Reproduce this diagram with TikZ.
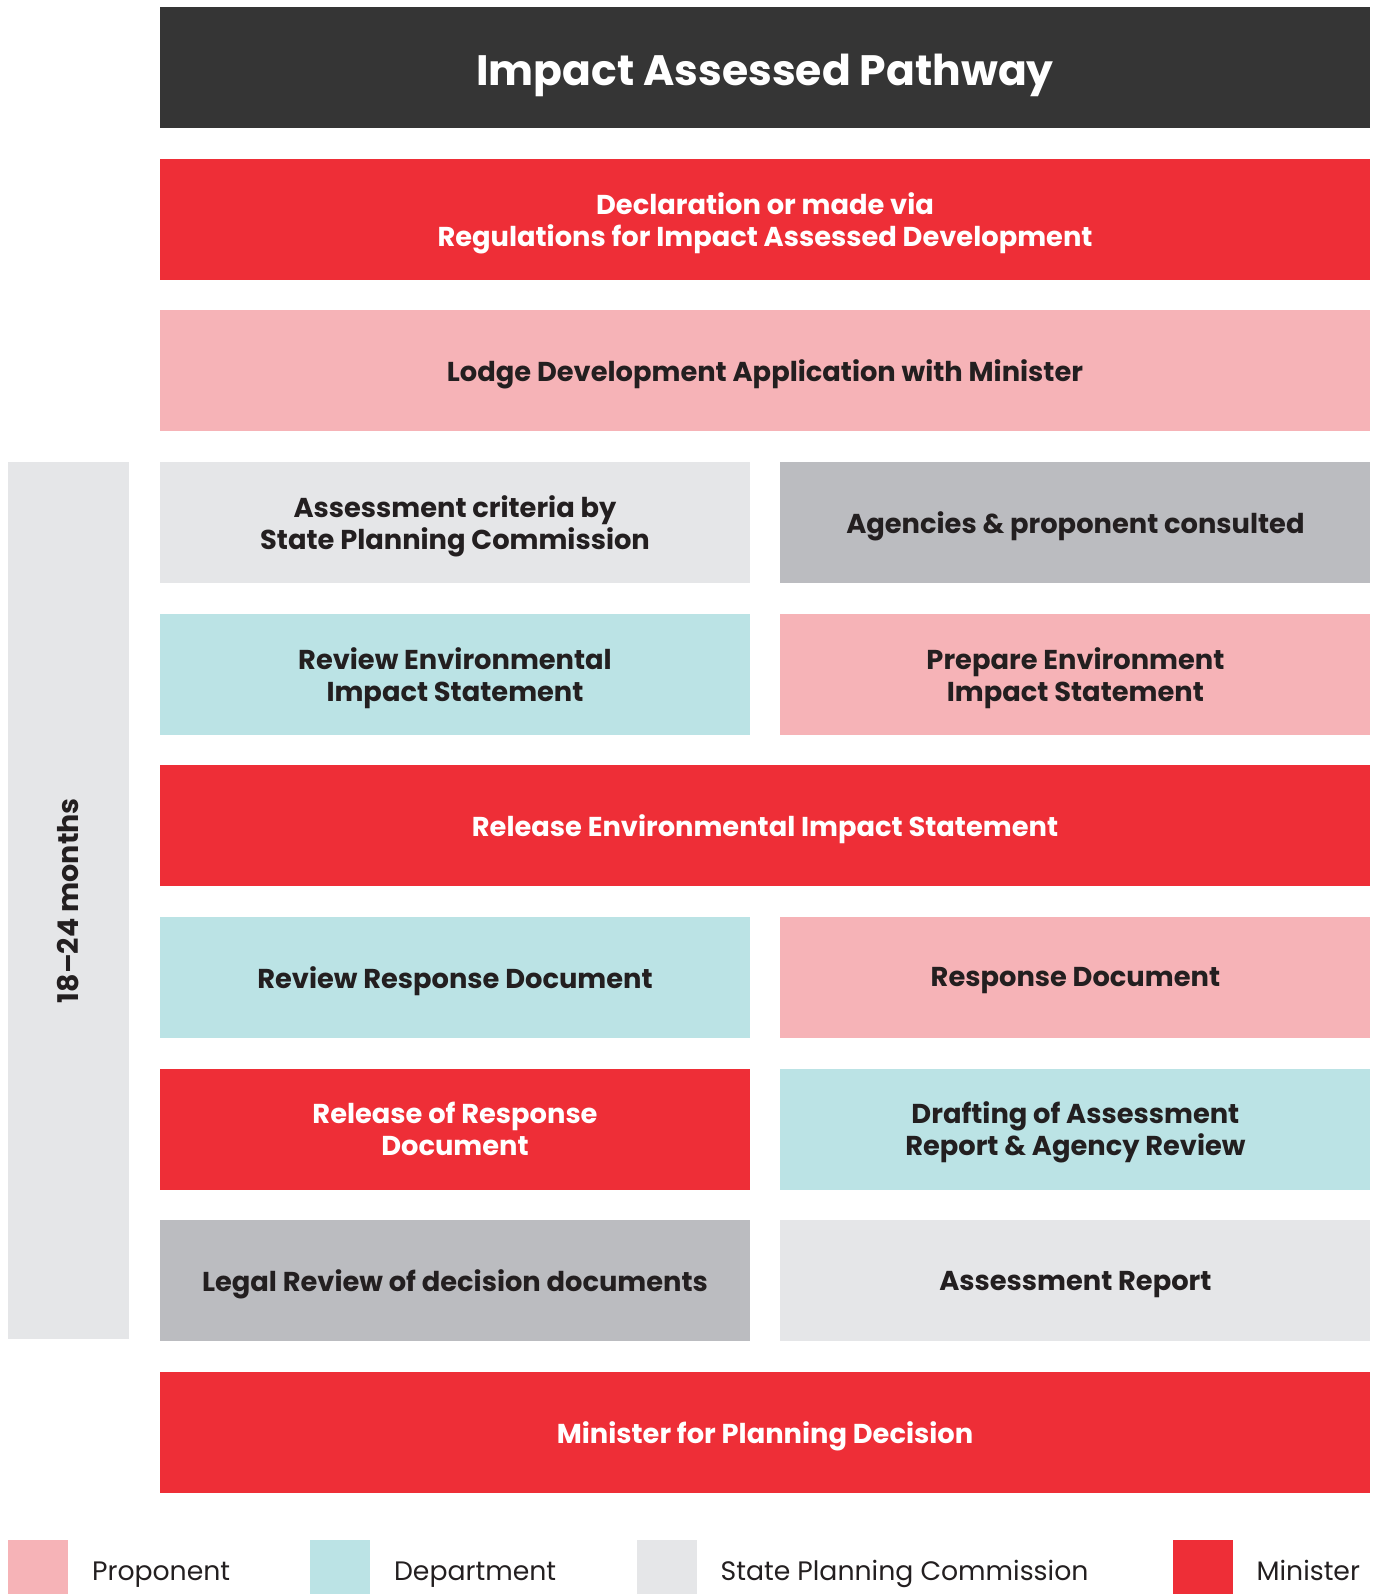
\documentclass[tikz,border=0pt]{standalone}
\usepackage{fontspec}
\setmainfont{Poppins}
\usetikzlibrary{positioning}
\definecolor{titlegrey}{HTML}{353535}
\definecolor{ministerred}{HTML}{EE2E37}
\definecolor{proponentpink}{HTML}{F6B3B7}
\definecolor{departmentblue}{HTML}{BBE3E5}
\definecolor{commissiongrey}{HTML}{E5E6E8}
\definecolor{othergrey}{HTML}{BBBCC0}
\definecolor{textdark}{HTML}{231F20}
\tikzset{
  box/.style={inner sep=0pt, minimum height=121pt, align=center, text=textdark, text depth=0pt,
    font=\fontsize{27.3}{32}\selectfont\bfseries},
  wide/.style={box, minimum width=1210pt},
  half/.style={box, minimum width=590pt},
  proponent/.style={fill=proponentpink},
  department/.style={fill=departmentblue},
  commission/.style={fill=commissiongrey},
  other/.style={fill=othergrey},
  minister/.style={fill=ministerred, text=white},
  key/.style={fill=#1, minimum width=60pt, minimum height=54pt, inner sep=0pt, anchor=north west},
  keytext/.style={anchor=base west, inner sep=0pt, text=textdark, font=\fontsize{26.7}{30}\selectfont}
}

\begin{document}
\begin{tikzpicture}[x=1pt,y=1pt,node distance=30.25pt and 30pt]
        \useasboundingbox (0,0) rectangle (1381,-1594);
        \node[wide, fill=titlegrey, text=white, text height=36pt, text depth=0pt,
              font=\fontsize{42.5}{50}\selectfont\bfseries] (title) at (765,-67.5) {Impact Assessed Pathway};
        \node[wide, minister] (declare) [below=of title] {Declaration or made via\\Regulations for Impact Assessed Development};
        \node[wide, proponent] (lodge) [below=of declare] {Lodge Development Application with Minister};
        \node[half, commission, anchor=north west] (criteria) at ([yshift=-30.25pt]lodge.south west) {Assessment criteria by\\State Planning Commission};
        \node[half, other] (agencies) [right=of criteria] {Agencies \& proponent consulted};
        \node[half, department] (reviewEIS) [below=of criteria] {Review Environmental\\Impact Statement};
        \node[half, proponent] (prepareEIS) [right=of reviewEIS] {Prepare Environment\\Impact Statement};
        \node[wide, minister, anchor=north west] (releaseEIS) at ([yshift=-30.25pt]reviewEIS.south west) {Release Environmental Impact Statement};
        \node[half, department, anchor=north west] (reviewRD) at ([yshift=-30.25pt]releaseEIS.south west) {Review Response Document};
        \node[half, proponent] (responseDoc) [right=of reviewRD] {Response Document};
        \node[half, minister] (releaseRD) [below=of reviewRD] {Release of Response\\Document};
        \node[half, department] (drafting) [right=of releaseRD] {Drafting of Assessment\\Report \& Agency Review};
        \node[half, other] (legal) [below=of releaseRD] {Legal Review of decision documents};
        \node[half, commission] (report) [right=of legal] {Assessment Report};
        \node[wide, minister, anchor=north west] (decision) at ([yshift=-30.25pt]legal.south west) {Minister for Planning Decision};
        % time span bar
        \node[commission, inner sep=0pt, minimum width=121pt, minimum height=877.25pt, anchor=north west] (duration) at ([xshift=-152pt]criteria.north west) {};
        \node[rotate=90, text=textdark, font=\fontsize{28.5}{32}\selectfont\bfseries] (durationtext) at (duration) {18--24 months};
        % legend
        \node[key=proponentpink] (keyprop) at (8,-1540) {};
        \node[keytext] (keyproptext) at ([xshift=23.5pt, yshift=-13pt]keyprop.east) {Proponent};
        \node[key=departmentblue] (keydept) at (310,-1540) {};
        \node[keytext] (keydepttext) at ([xshift=23.5pt, yshift=-13pt]keydept.east) {Department};
        \node[key=commissiongrey] (keycomm) at (636.5,-1540) {};
        \node[keytext] (keycommtext) at ([xshift=23.5pt, yshift=-13pt]keycomm.east) {State Planning Commission};
        \node[key=ministerred] (keymin) at (1172.5,-1540) {};
        \node[keytext] (keymintext) at ([xshift=23.5pt, yshift=-13pt]keymin.east) {Minister};
\end{tikzpicture}
\end{document}
